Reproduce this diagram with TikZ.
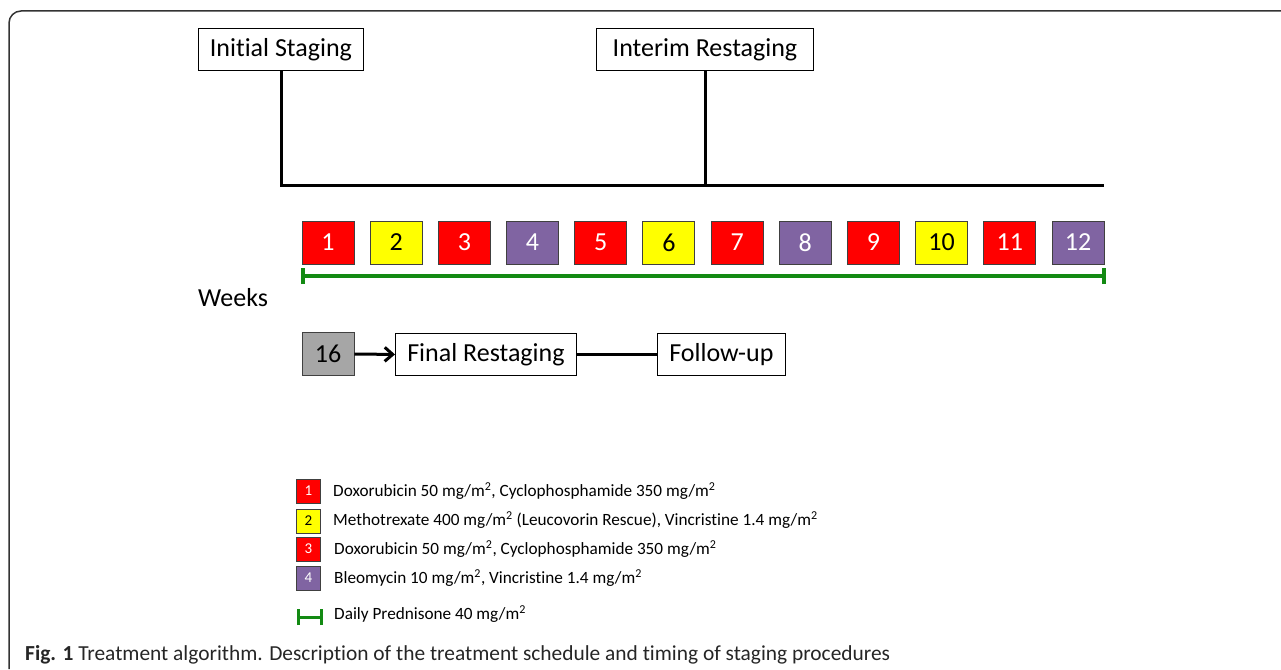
\documentclass[tikz,border=0pt]{standalone}
\usepackage{fontspec}
\setmainfont{Carlito}[Ligatures=NoCommon]
\usetikzlibrary{arrows.meta}
\definecolor{cred}{HTML}{FF0000}
\definecolor{cyel}{HTML}{FFFF00}
\definecolor{cpur}{HTML}{8064A2}
\definecolor{cgray}{HTML}{A6A6A6}
\definecolor{cgreen}{HTML}{138A13}
\definecolor{cbord}{HTML}{404040}
\begin{document}
\begin{tikzpicture}[x=1pt,y=-1pt,
  lbl/.style={draw=black,line width=0.9pt,fill=white,inner sep=0pt,font=\fontsize{26}{30}\selectfont,anchor=north west},
  wk/.style={draw=cbord,line width=0.9pt,minimum width=52pt,minimum height=43pt,inner sep=0pt,font=\fontsize{26}{30}\selectfont},
  rw/.style={wk,fill=cred,text=white},
  yw/.style={wk,fill=cyel,text=black},
  pw/.style={wk,fill=cpur,text=white},
  lg/.style={draw=cbord,line width=0.8pt,minimum width=24pt,minimum height=24pt,inner sep=0pt,font=\fontsize{15}{17}\selectfont},
  lt/.style={anchor=west,inner sep=0pt,font=\fontsize{17.2}{20}\selectfont},
  conn/.style={line width=3pt,black},
  grn/.style={cgreen,line width=3.3pt}
]
\useasboundingbox (0,0) rectangle (1281,669);
% frame
\draw[line width=1.5pt,draw=black!80,rounded corners=12pt] (9,669) -- (9,11) -- (1281,11);
% top boxes
\node[lbl,minimum width=165pt,minimum height=42pt] (init) at (198,28) {Initial Staging};
\node[lbl,minimum width=217pt,minimum height=42pt] (inter) at (596,28) {Interim Restaging};
\coordinate (c1) at (281,185);
\coordinate (c2) at (705,185);
\coordinate (cend) at (1104,185);
\draw[conn] (init.south -| c1) -- (c1) -- (cend);
\draw[conn] (inter.south -| c2) -- (c2);
% weeks
\foreach \i/\s in {1/rw,2/yw,3/rw,4/pw,5/rw,6/yw,7/rw,8/pw,9/rw,10/yw,11/rw,12/pw}{
  \node[\s] (w\i) at ({328+(\i-1)*68.18},242.5) {\i};
}
\coordinate (gs) at (303,276);
\coordinate (ge) at (1104,276);
\draw[grn] (gs) -- (ge);
\draw[grn] ([yshift=-8pt]gs) -- ([yshift=8pt]gs);
\draw[grn] ([yshift=-8pt]ge) -- ([yshift=8pt]ge);
\node[anchor=west,inner sep=0pt,font=\fontsize{26}{30}\selectfont] (weeks) at (198,298) {Weeks};
% lower row
\node[wk,fill=cgray] (w16) at (328,354) {16};
\node[lbl,minimum width=181pt,minimum height=42pt] (final) at (395,333) {Final Restaging};
\node[lbl,minimum width=128pt,minimum height=42pt] (fu) at (657,333) {Follow-up};
\draw[conn,-{Straight Barb[length=8pt,width=14pt]}] (w16.east) -- (final.west);
\draw[conn] (final.east) -- (fu.west);
% legend
\node[lg,fill=cred,text=white] (l1) at (308.5,491) {1};
\node[lg,fill=cyel,text=black] (l2) at (308.5,521) {2};
\node[lg,fill=cred,text=white] (l3) at (308.5,549) {3};
\node[lg,fill=cpur,text=white] (l4) at (308.5,578) {4};
\node[lt] (t1) at (333,491) {Doxorubicin 50 mg/m\textsuperscript{2}, Cyclophosphamide 350 mg/m\textsuperscript{2}};
\node[lt] (t2) at (333,520) {Methotrexate 400 mg/m\textsuperscript{2} (Leucovorin Rescue), Vincristine 1.4 mg/m\textsuperscript{2}};
\node[lt] (t3) at (334,549) {Doxorubicin 50 mg/m\textsuperscript{2}, Cyclophosphamide 350 mg/m\textsuperscript{2}};
\node[lt] (t4) at (334,578) {Bleomycin 10 mg/m\textsuperscript{2}, Vincristine 1.4 mg/m\textsuperscript{2}};
\coordinate (ls) at (298,617);
\coordinate (le) at (321,617);
\draw[grn,line width=3pt] (ls) -- (le);
\draw[grn,line width=3pt] ([yshift=-8pt]ls) -- ([yshift=8pt]ls);
\draw[grn,line width=3pt] ([yshift=-8pt]le) -- ([yshift=8pt]le);
\node[lt] (t5) at (334,614) {Daily Prednisone 40 mg/m\textsuperscript{2}};
% caption
\node[anchor=west,inner sep=0pt,font=\fontsize{21.4}{25}\selectfont,text=black!85] (cap) at (25,655) {\textbf{Fig. 1} Treatment algorithm. Description of the treatment schedule and timing of staging procedures};
\end{tikzpicture}
\end{document}
